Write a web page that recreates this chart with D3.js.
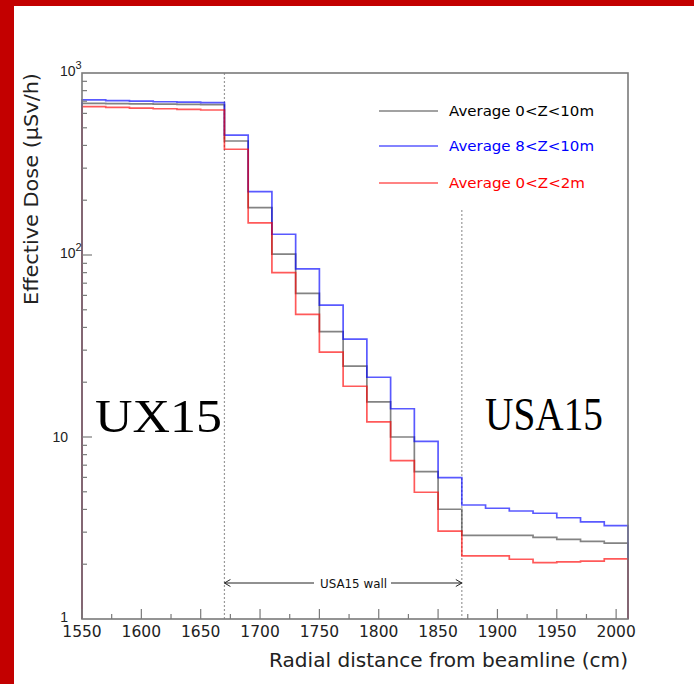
<!DOCTYPE html>
<html><head><meta charset="utf-8">
<script src="https://cdn.jsdelivr.net/npm/d3@7/dist/d3.min.js"></script>
<style>body{margin:0;background:#fff}svg{display:block}</style>
</head><body>
<script>
const binEdges = [1550,1570,1590,1610,1630,1650,1670,1690,1710,1730,1750,1770,1790,1810,1830,1850,1870,1890,1910,1930,1950,1970,1990,2010];
const avg0to10 = [681,678,676,674,672,670,423,182,101,61.6,37.9,24.5,15.6,10.0,6.45,4.01,2.88,2.88,2.88,2.81,2.74,2.67,2.61];
const avg8to10 = [711,705,700,695,691,687,456,223,130,84,53.1,34.5,21.3,14.3,9.47,5.98,4.23,4.06,3.92,3.81,3.60,3.42,3.26];
const avg0to2  = [653,647,642,636,631,626,381,150,80,47.2,29.3,19.0,12.1,7.41,4.97,3.04,2.22,2.22,2.13,2.04,2.06,2.08,2.14];
const xTickLabels = [1550,1600,1650,1700,1750,1800,1850,1900,1950,2000];
const yTickLabels = [1,10,100,1000];
const seriesNames = ["Average 0<Z<10m","Average 8<Z<10m","Average 0<Z<2m"];
const seriesColors = ["#404040","#0000ff","#ff0000"];
const wallEdges = [1670,1870];

const W=694,H=684;
const svg=d3.select("body").append("svg").attr("width",W).attr("height",H);
svg.append("rect").attr("x",0).attr("y",0).attr("width",W).attr("height",H).attr("fill","#fff");
svg.append("rect").attr("x",0).attr("y",0).attr("width",W).attr("height",6).attr("fill","#c30000");
svg.append("rect").attr("x",0).attr("y",0).attr("width",14).attr("height",H).attr("fill","#c30000");

const L=82,R=628,T=73,B=619;
const x=d3.scaleLinear().domain([1550,2010]).range([L,R]);
const y=d3.scaleLog().domain([1,1000]).range([B,T]);
const gray="#7a7a7a";
const sans="'Liberation Sans',Arial,sans-serif";
const round="'DejaVu Sans',sans-serif";

// dotted lines
svg.append("line").attr("x1",x(wallEdges[0])).attr("x2",x(wallEdges[0])).attr("y1",T).attr("y2",B)
  .attr("stroke","#999").attr("stroke-width",1.2).attr("stroke-dasharray","2,2");
svg.append("line").attr("x1",x(wallEdges[1])).attr("x2",x(wallEdges[1])).attr("y1",210).attr("y2",B)
  .attr("stroke","#999").attr("stroke-width",1.2).attr("stroke-dasharray","2,2");

// histograms
const series=[avg0to10,avg8to10,avg0to2];
series.forEach((vals,i)=>{
  const pts=[[binEdges[0],1]];
  vals.forEach((v,j)=>{pts.push([binEdges[j],v]);pts.push([binEdges[j+1],v]);});
  pts.push([binEdges[binEdges.length-1],1]);
  const line=d3.line().x(d=>x(d[0])).y(d=>y(d[1]));
  svg.append("path").attr("d",line(pts)).attr("fill","none")
    .attr("stroke",seriesColors[i]).attr("stroke-width",1.7).attr("stroke-opacity",0.65);
});

// frame
svg.append("rect").attr("x",L).attr("y",T).attr("width",R-L).attr("height",B-T)
  .attr("fill","none").attr("stroke",gray).attr("stroke-width",1.6);

// x ticks
const xMinor=d3.range(1575,2010,50);
xTickLabels.forEach(t=>{
  svg.append("line").attr("x1",x(t)).attr("x2",x(t)).attr("y1",B).attr("y2",B-10).attr("stroke",gray).attr("stroke-width",1.2);
  svg.append("text").attr("x",x(t)).attr("y",637).attr("text-anchor","middle")
    .attr("font-family",round).attr("font-size",15.5).attr("fill","#222").text(t);
});
xMinor.forEach(t=>{
  svg.append("line").attr("x1",x(t)).attr("x2",x(t)).attr("y1",B).attr("y2",B-5).attr("stroke",gray).attr("stroke-width",1.2);
});
// y ticks
yTickLabels.forEach((t,k)=>{
  if(k>0&&k<yTickLabels.length-1) svg.append("line").attr("x1",L).attr("x2",L+10).attr("y1",y(t)).attr("y2",y(t)).attr("stroke",gray).attr("stroke-width",1.2);
  if(k<yTickLabels.length-1){
    for(let m=2;m<=9;m++){
      svg.append("line").attr("x1",L).attr("x2",L+5).attr("y1",y(t*m)).attr("y2",y(t*m)).attr("stroke",gray).attr("stroke-width",1.2);
    }
  }
});
function yLabel(t){
  const e=Math.round(Math.log10(t));
  const tx=svg.append("text").attr("font-family",sans).attr("font-size",14).attr("fill","#222");
  if(e<=1){tx.attr("x",68).attr("y",y(t)+(e===0?3:5)).attr("text-anchor","end").text(t);}
  else{
    tx.attr("x",60).attr("y",y(t)+3).attr("text-anchor","start");
    tx.append("tspan").text("10");
    tx.append("tspan").attr("dy",-7).attr("font-size",11).text(e);
  }
}
yTickLabels.forEach(yLabel);

// axis titles
svg.append("text").attr("x",R).attr("y",667).attr("text-anchor","end")
  .attr("font-family",round).attr("font-size",19.5).attr("textLength",359).attr("lengthAdjust","spacingAndGlyphs")
  .attr("fill","#222").text("Radial distance from beamline (cm)");
svg.append("text").attr("transform",`translate(38,${T}) rotate(-90)`).attr("text-anchor","end")
  .attr("font-family",round).attr("font-size",19).attr("textLength",232).attr("lengthAdjust","spacingAndGlyphs")
  .attr("fill","#222").text("Effective Dose (\u03BCSv/h)");

// legend
const legY=[111,146,183];
seriesNames.forEach((n,i)=>{
  svg.append("line").attr("x1",379).attr("x2",438).attr("y1",legY[i]).attr("y2",legY[i])
    .attr("stroke",seriesColors[i]).attr("stroke-width",1.7).attr("stroke-opacity",0.65);
  svg.append("text").attr("x",449).attr("y",legY[i]+5).attr("font-family",round).attr("font-size",14.5)
    .attr("textLength",i===2?136:145).attr("lengthAdjust","spacingAndGlyphs")
    .attr("fill",i===0?"#000":seriesColors[i]).text(n);
});

// big labels
svg.append("text").attr("x",95).attr("y",432).attr("font-family","'Liberation Serif','DejaVu Serif',serif")
  .attr("font-size",46).attr("textLength",127).attr("lengthAdjust","spacingAndGlyphs").attr("fill","#000").text("UX15");
svg.append("text").attr("x",485).attr("y",430).attr("font-family","'Liberation Serif','DejaVu Serif',serif")
  .attr("font-size",46).attr("textLength",118).attr("lengthAdjust","spacingAndGlyphs").attr("fill","#000").text("USA15");

// wall arrow
const ay=583;
svg.append("text").attr("x",320).attr("y",ay+4.5).attr("font-family",round)
  .attr("font-size",12.5).attr("textLength",67).attr("lengthAdjust","spacingAndGlyphs").attr("fill","#111").text("USA15 wall");
svg.append("line").attr("x1",x(wallEdges[0])).attr("x2",314).attr("y1",ay).attr("y2",ay).attr("stroke","#222").attr("stroke-width",1);
svg.append("line").attr("x1",391).attr("x2",x(wallEdges[1])).attr("y1",ay).attr("y2",ay).attr("stroke","#222").attr("stroke-width",1);
svg.append("path").attr("d",`M${x(wallEdges[0])+6},${ay-3.5}L${x(wallEdges[0])},${ay}L${x(wallEdges[0])+6},${ay+3.5}`).attr("fill","none").attr("stroke","#222");
svg.append("path").attr("d",`M${x(wallEdges[1])-6},${ay-3.5}L${x(wallEdges[1])},${ay}L${x(wallEdges[1])-6},${ay+3.5}`).attr("fill","none").attr("stroke","#222");
</script>
</body></html>
